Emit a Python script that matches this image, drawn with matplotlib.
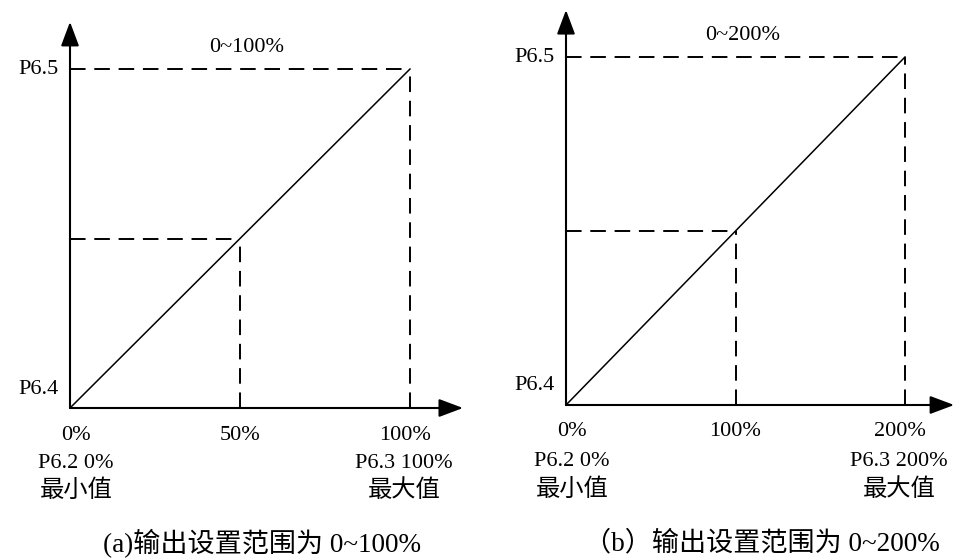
import matplotlib.pyplot as plt

plt.rcParams['font.family'] = ['Liberation Serif', 'Noto Sans CJK SC', 'DejaVu Sans']

# data
x_a = [0, 50, 100]
x_b = [0, 100, 200]
y_lvl = [0, 0.5, 1]
xlab_a = ['0%', '50%', '100%']
xlab_b = ['0%', '100%', '200%']
ylab = ['P6.4', 'P6.5']
top_a = '0~100%'
top_b = '0~200%'
cap_a = '(a)输出设置范围为 0~100%'
cap_b = '（b）输出设置范围为 0~200%'

W, H = 954, 559
fig = plt.figure(figsize=(W / 100, H / 100), dpi=100)

FS = 16      # latin labels
FS_CJK = 17.5
FS_CAP = 19.5


def px_axes(x0, y0, x1, y1):
    # origin pixel (x0, y0), top-right data pixel (x1, y1)
    return fig.add_axes([x0 / W, 1 - y0 / H, (x1 - x0) / W, (y0 - y1) / H])


def panel(ax, xs, xlabs, top, xmax, xarrow, yarrow, toplab_x, sub_dy):
    ax.set_xlim(0, xmax)
    ax.set_ylim(0, 1)
    ax.axis('off')
    ap = dict(arrowstyle='-|>,head_length=0.4,head_width=0.15', mutation_scale=37,
              lw=1.5, color='black', shrinkA=0, shrinkB=0)
    ax.annotate('', xy=(xarrow, 0), xytext=(0, 0), arrowprops=ap, annotation_clip=False)
    ax.annotate('', xy=(0, yarrow), xytext=(0, 0), arrowprops=ap, annotation_clip=False)
    # diagonal
    ax.plot([xs[0], xs[-1]], [y_lvl[0], y_lvl[-1]], color='black', lw=1.1, clip_on=False)
    # dashed guides
    dk = dict(color='black', lw=1.4, dashes=(8, 4.5), clip_on=False)
    for xv, yv in zip(xs[1:], y_lvl[1:]):
        ax.plot([0, xv], [yv, yv], **dk)
        ax.plot([xv, xv], [0, yv], **dk)
    # x labels
    offs = [6, 0, -5]
    for xv, lab, o in zip(xs, xlabs, offs):
        ax.annotate(lab, xy=(xv, 0), xytext=(o, -27), textcoords='offset pixels',
                    ha='center', va='center', fontsize=FS)
    ax.annotate('P6.2 0%', xy=(xs[0], 0), xytext=(6, -sub_dy[0]), textcoords='offset pixels',
                ha='center', va='center', fontsize=FS)
    ax.annotate('最小值', xy=(xs[0], 0), xytext=(6, -sub_dy[1]), textcoords='offset pixels',
                ha='center', va='center', fontsize=FS_CJK)
    ax.annotate('P6.3 ' + xlabs[-1], xy=(xs[-1], 0), xytext=(-6, -sub_dy[0]),
                textcoords='offset pixels', ha='center', va='center', fontsize=FS)
    ax.annotate('最大值', xy=(xs[-1], 0), xytext=(-6, -sub_dy[1]), textcoords='offset pixels',
                ha='center', va='center', fontsize=FS_CJK)
    # y labels
    ax.annotate(ylab[0], xy=(0, 0), xytext=(-11, 19), textcoords='offset pixels',
                ha='right', va='center', fontsize=FS)
    ax.annotate(ylab[1], xy=(0, 1), xytext=(-11, 0), textcoords='offset pixels',
                ha='right', va='center', fontsize=FS)
    ax.annotate(top, xy=(toplab_x, 1), xytext=(0, 21), textcoords='offset pixels',
                ha='center', va='center', fontsize=FS)


ax1 = px_axes(70, 408, 410, 69)
panel(ax1, x_a, xlab_a, top_a, 100, 115.6, 1.139, 52, (55, 83))

ax2 = px_axes(566, 405, 905, 57)
panel(ax2, x_b, xlab_b, top_b, 200, 229, 1.135, 104, (56, 85))

fig.text(262 / W, 1 - 544 / H, cap_a, ha='center', va='center', fontsize=FS_CAP)
fig.text(762 / W, 1 - 544 / H, cap_b, ha='center', va='center', fontsize=FS_CAP)

fig.savefig('out.png', dpi=100)
